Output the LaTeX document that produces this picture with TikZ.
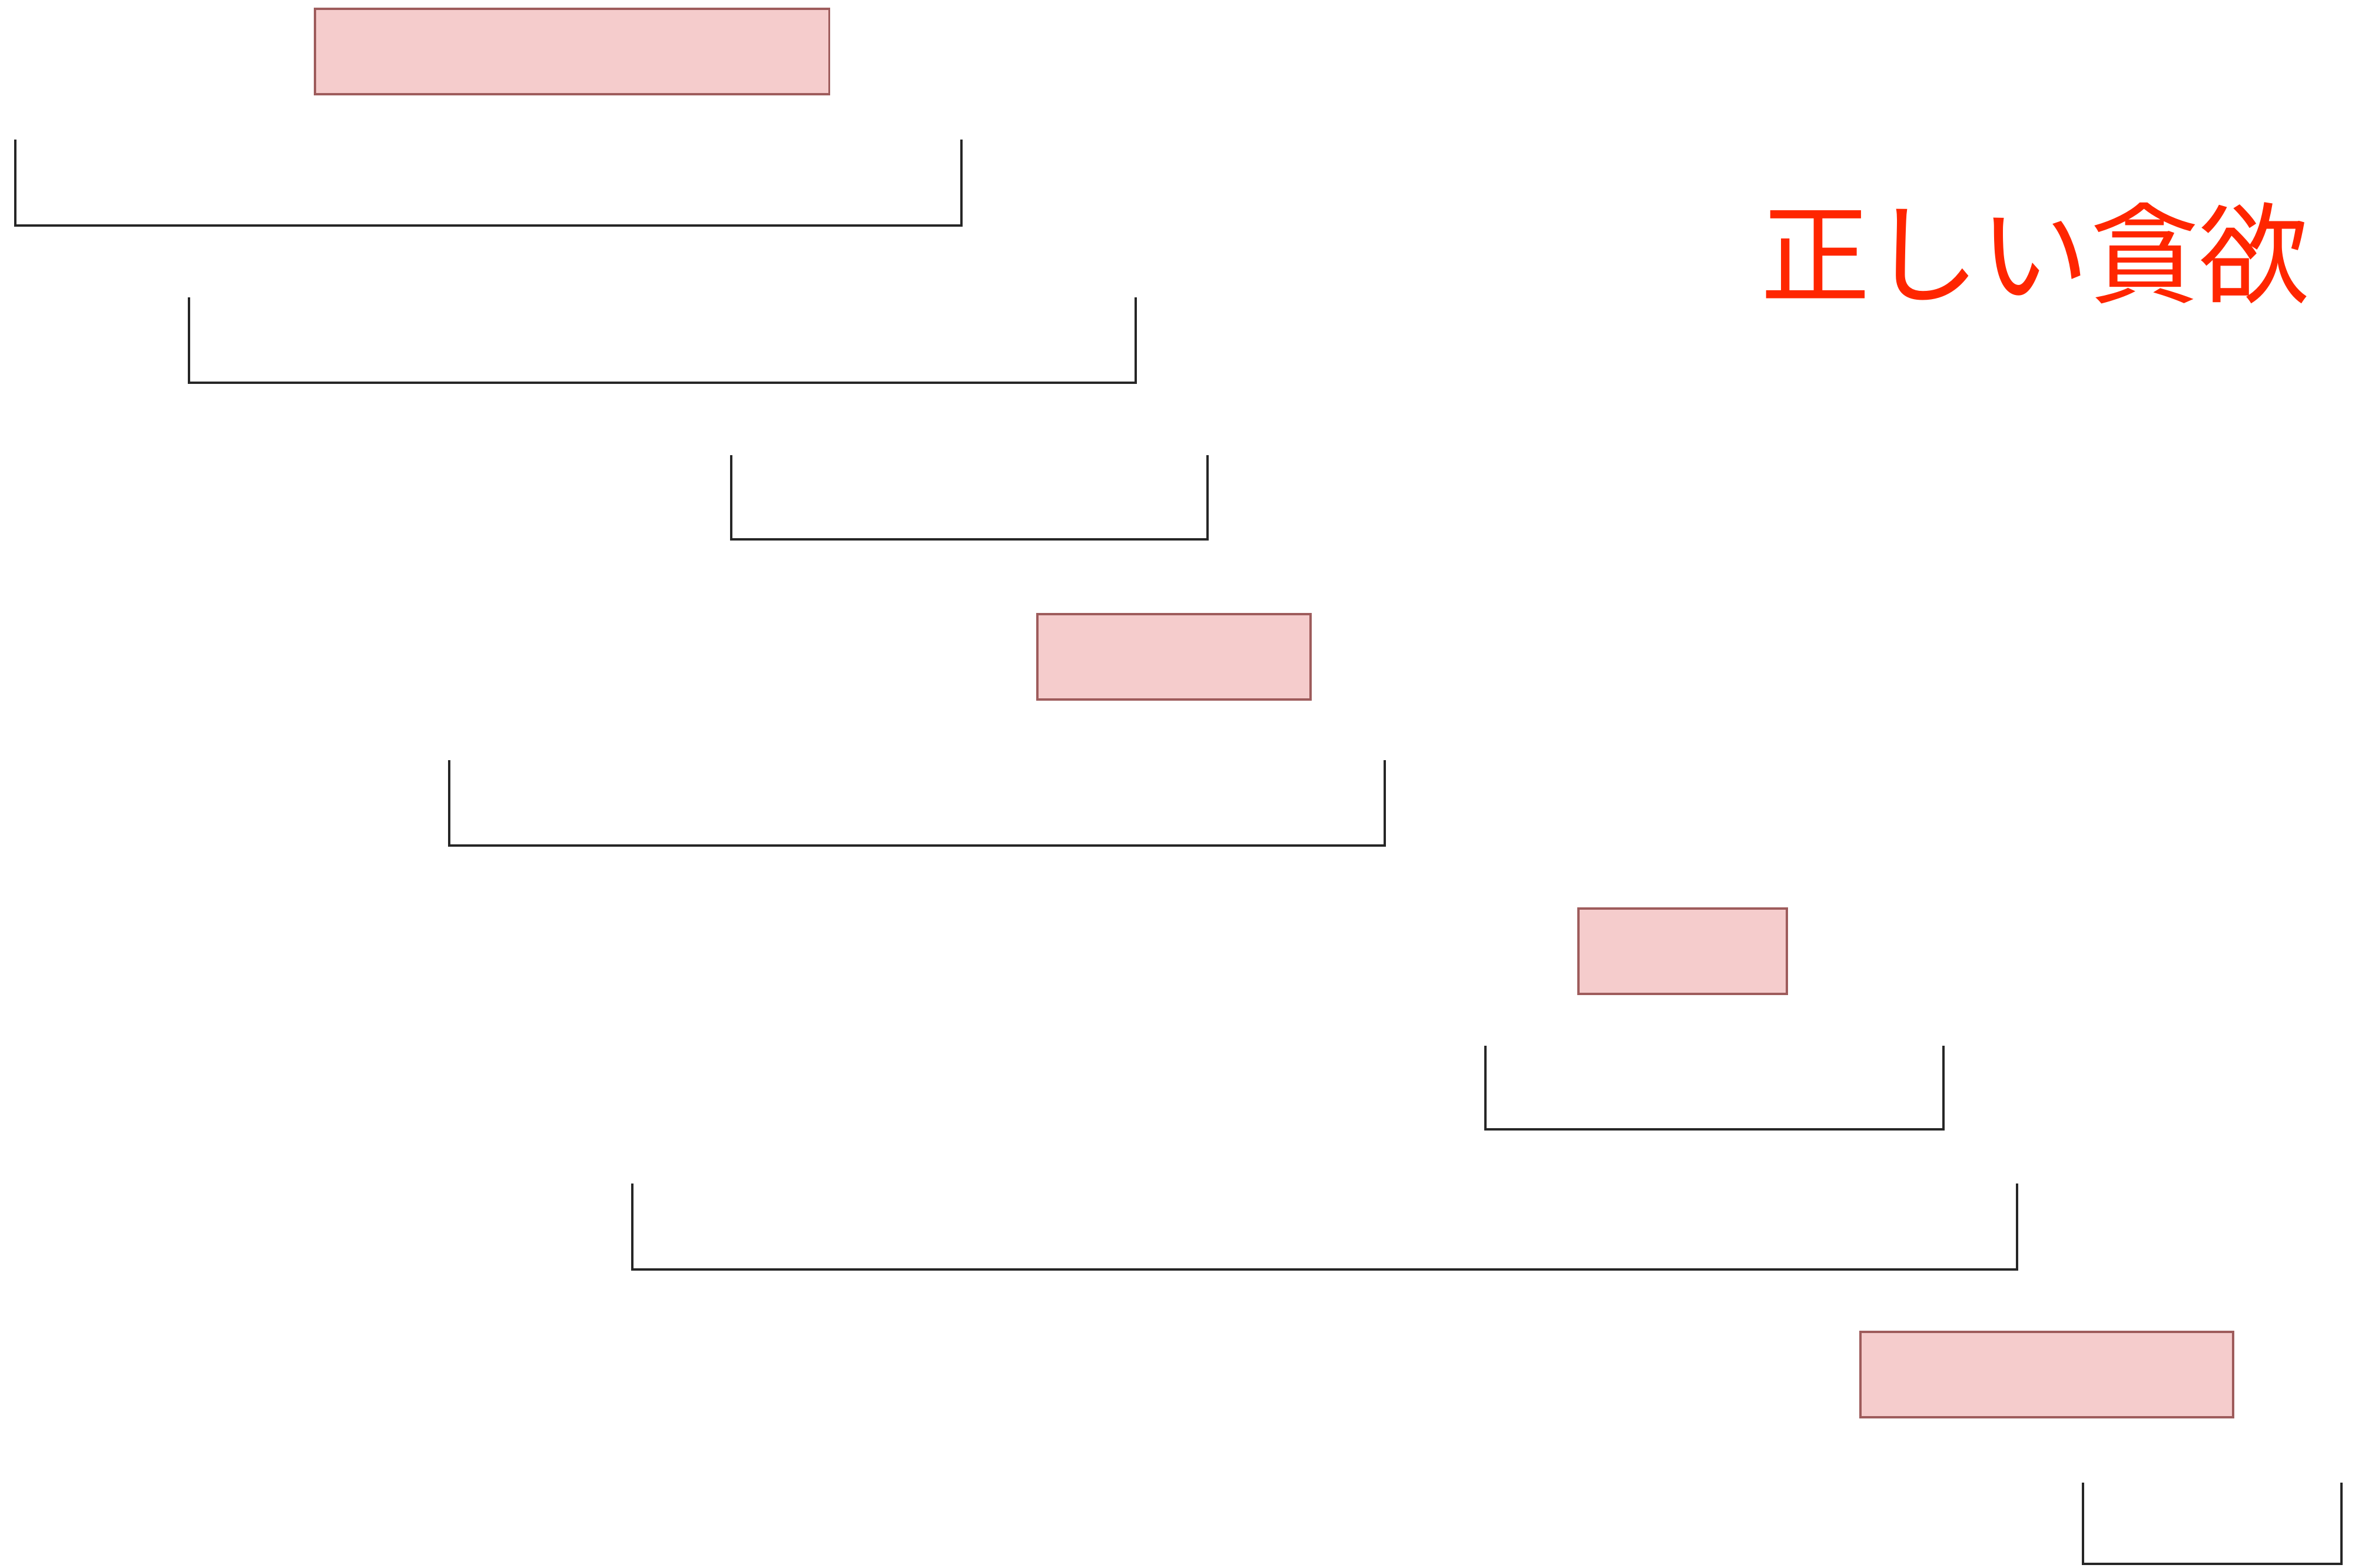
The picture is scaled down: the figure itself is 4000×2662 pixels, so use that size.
\documentclass[tikz,border=0pt]{standalone}
\usepackage{fontspec}
\newfontfamily\jpfont{Noto Sans CJK JP}
\definecolor{boxfill}{HTML}{F5CCCC}
\definecolor{boxline}{HTML}{9E5C5C}
\definecolor{titlered}{HTML}{FF2600}
\usetikzlibrary{positioning}

\begin{document}
\begin{tikzpicture}[x=0.01cm, y=-0.01cm,
		chosen/.style={draw=boxline, fill=boxfill, line width=1.1pt, rectangle, minimum height=1.45cm, anchor=north west, inner sep=0pt},
		bracket/.style={draw=black!85, line width=1pt}]
		\useasboundingbox (0, 0) rectangle (4000, 2662);
		% selected intervals
		\node[chosen, minimum width=8.73cm] (b1) at (533, 13) {};
		\node[chosen, minimum width=4.64cm] (b2) at (1760, 1041) {};
		\node[chosen, minimum width=3.54cm] (b3) at (2679, 1541) {};
		\node[chosen, minimum width=6.33cm] (b4) at (3158, 2260) {};
		% rejected intervals
		\draw[bracket] (26, 237) |- (1633, 383) -- (1633, 237);
		\draw[bracket] (321, 505) |- (1929, 650) -- (1929, 505);
		\draw[bracket] (1242, 773) |- (2051, 916) -- (2051, 773);
		\draw[bracket] (763, 1291) |- (2352, 1436) -- (2352, 1291);
		\draw[bracket] (2523, 1776) |- (3301, 1918) -- (3301, 1776);
		\draw[bracket] (1074, 2010) |- (3426, 2156) -- (3426, 2010);
		\draw[bracket] (3538, 2518) |- (3977, 2656) -- (3977, 2518);
		% title
		\node[text=titlered, inner sep=0pt, font=\jpfont\fontsize{53}{60}\selectfont] (title) at (3456, 430) {正しい貪欲};
	\end{tikzpicture}
\end{document}
